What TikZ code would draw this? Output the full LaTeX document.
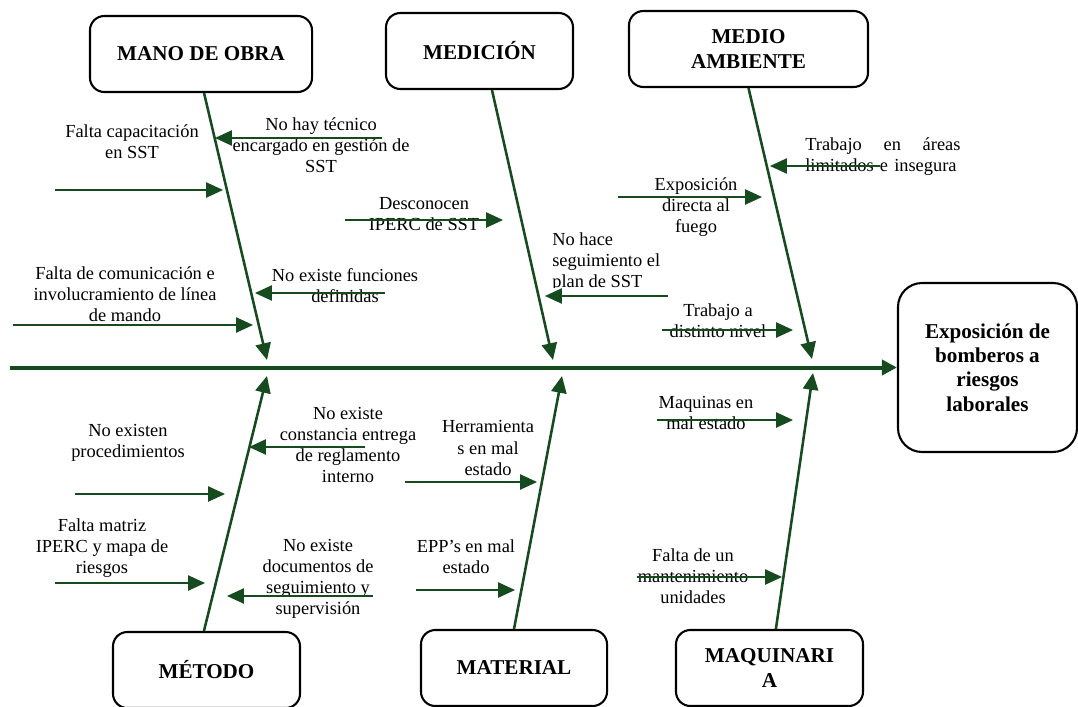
\documentclass[tikz,border=0pt]{standalone}
\usepackage{fontspec}
\setmainfont{Liberation Serif}
\usetikzlibrary{arrows.meta}
\definecolor{verdeosc}{RGB}{22,75,32}

\begin{document}
\begin{tikzpicture}[x=0.625pt,y=0.625pt,yscale=-1,
    categoria/.style={draw=black,line width=1.3pt,rounded corners=9pt,align=center,inner sep=0pt,
      minimum height=47.5pt,font=\fontsize{13.2}{15.2}\selectfont\bfseries},
    causa/.style={align=center,inner sep=0pt,font=\fontsize{11.5}{13.2}\selectfont},
    lomo/.style={draw=verdeosc,line width=2.5pt,-{Triangle[length=9.5pt,width=9.5pt]}},
    espina/.style={draw=verdeosc,line width=1.6pt,-{Triangle[length=10.5pt,width=9.5pt]}},
    flecha/.style={draw=verdeosc,line width=0.8pt,-{Triangle[length=10.5pt,width=9.5pt]}}]
    \useasboundingbox (0,0) rectangle (1078,706);

    %Shape: Rounded Rect (categorias)
    \node[categoria,minimum width=138.8pt] (mano) at (201,54) {MANO DE OBRA};
    \node[categoria,minimum width=116.9pt] (medicion) at (479.5,51) {MEDICIÓN};
    \node[categoria,minimum width=149.4pt] (medio) at (748.5,49) {MEDIO\\AMBIENTE};
    \node[categoria,minimum width=116.9pt] (metodo) at (206.5,670) {MÉTODO};
    \node[categoria,minimum width=116.3pt] (material) at (514,668) {MATERIAL};
    \node[categoria,minimum width=116.9pt] (maquinaria) at (769.5,668) {MAQUINARI\\A};
    %Shape: Rounded Rect (efecto)
    \node[categoria,rounded corners=15pt,minimum width=111.9pt,minimum height=105.6pt] (efecto) at (987.5,367.5)
      {Exposición de\\bomberos a\\riesgos\\laborales};

    %Straight Lines (espina central)
    \coordinate (inicio) at (10,367.5);
    \draw[lomo] (inicio) -- (efecto.west);

    %Straight Lines (espinas)
    \coordinate (pmano) at (267,360);
    \coordinate (pmedicion) at (553,360);
    \coordinate (pmedio) at (812,359);
    \coordinate (pmetodo) at (267,376);
    \coordinate (pmaterial) at (562,376);
    \coordinate (pmaquinaria) at (813,373);
    \draw[espina] ([xshift=1.9pt]mano.south) -- (pmano);
    \draw[espina] ([xshift=7.8pt]medicion.south) -- (pmedicion);
    \draw[espina] (medio.south) -- (pmedio);
    \draw[espina] ([xshift=-1.6pt]metodo.north) -- (pmetodo);
    \draw[espina] (material.north) -- (pmaterial);
    \draw[espina] ([xshift=4pt]maquinaria.north) -- (pmaquinaria);

    % Text Node
    \node[causa] (c1) at (321,145) {No hay técnico\\encargado en gestión de\\SST};
    \node[causa] (c2) at (132,142) {Falta capacitación\\en SST};
    \node[causa] (c3) at (345,286) {No existe funciones\\definidas};
    \node[causa] (c4) at (125,294) {Falta de comunicación e\\involucramiento de línea\\de mando};
    \node[causa] (c5) at (424,214) {Desconocen\\IPERC de SST};
    \begin{scope}
      \clip (540,225) rectangle (700,287);
      \node[causa,align=left,anchor=west] (c6) at (552,262) {No hace\\seguimiento el\\plan de SST};
    \end{scope}
    \node[causa,align=left,anchor=west,text width=97pt] (c7) at (805,157) {Trabajo\hfill en\hfill áreas\\limitados e insegura};
    \node[causa] (c8) at (696,207) {Exposición\\directa al\\fuego};
    \node[causa] (c9) at (718,321) {Trabajo a\\distinto nivel};
    \node[causa] (c10) at (128,443) {No existen\\procedimientos};
    \node[causa] (c11) at (348,445) {No existe\\constancia entrega\\de reglamento\\interno};
    \node[causa] (c12) at (102,548) {Falta matriz\\IPERC y mapa de\\riesgos};
    \node[causa] (c13) at (318,579) {No existe\\documentos de\\seguimiento y\\supervisión};
    \node[causa] (c14) at (488,448) {Herramienta\\s en mal\\estado};
    \node[causa] (c15) at (466,557) {EPP’s en mal\\estado};
    \node[causa] (c16) at (706,413) {Maquinas en\\mal estado};
    \node[causa] (c17) at (693,576) {Falta de un\\mantenimiento\\unidades};

    %Straight Lines (subcausas)
    \coordinate (a1) at (382,138);  \coordinate (b1) at (215,138);
    \coordinate (a2) at (55,190);   \coordinate (b2) at (223,190);
    \coordinate (a3) at (385,293);  \coordinate (b3) at (255,293);
    \coordinate (a4) at (13,325);   \coordinate (b4) at (253,325);
    \coordinate (a5) at (345,220);  \coordinate (b5) at (503,220);
    \coordinate (a6) at (668,296);  \coordinate (b6) at (545,296);
    \coordinate (a7) at (880,166);  \coordinate (b7) at (770,166);
    \coordinate (a8) at (618,197);  \coordinate (b8) at (762,197);
    \coordinate (a9) at (662,330);  \coordinate (b9) at (793,330);
    \coordinate (a10) at (75,494);  \coordinate (b10) at (225,494);
    \coordinate (a11) at (365,447); \coordinate (b11) at (249,447);
    \coordinate (a12) at (55,583);  \coordinate (b12) at (205,583);
    \coordinate (a13) at (373,596); \coordinate (b13) at (227,596);
    \coordinate (a14) at (405,482); \coordinate (b14) at (537,482);
    \coordinate (a15) at (416,590); \coordinate (b15) at (515,590);
    \coordinate (a16) at (657,420); \coordinate (b16) at (793,420);
    \coordinate (a17) at (637,577); \coordinate (b17) at (782,577);
    \foreach \i in {1,...,17}
      \draw[flecha] (a\i) -- (b\i);

\end{tikzpicture}
\end{document}
